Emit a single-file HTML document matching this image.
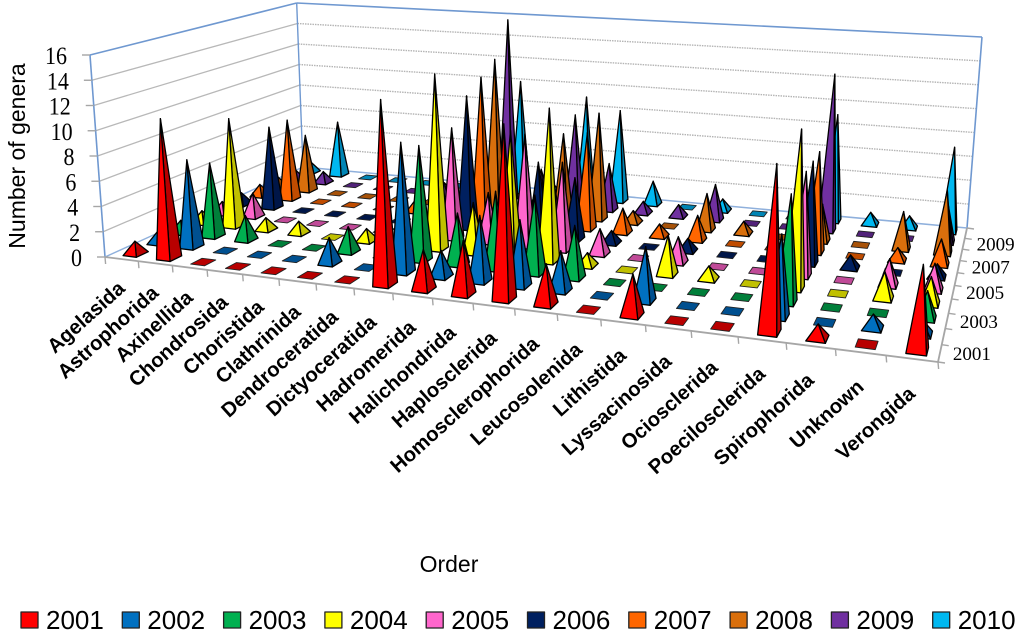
<!DOCTYPE html>
<html lang="en">
<head>
<meta charset="utf-8">
<title>Number of genera by order and year</title>
<style>
html,body{margin:0;padding:0;background:#fff;}
svg{display:block;}
text{font-family:"Liberation Sans",sans-serif;fill:#000;}
.serif{font-family:"Liberation Serif",serif;}
</style>
</head>
<body>
<svg id="chart" xmlns="http://www.w3.org/2000/svg" width="1024" height="634" viewBox="0 0 1024 634">
<text transform="translate(25 156) rotate(-90)" text-anchor="middle" font-size="23">Number of genera</text>
<text x="449" y="572" text-anchor="middle" font-size="23">Order</text>
</svg>
<script>
const categories = ["Agelasida","Astrophorida","Axinellida","Chondrosida","Choristida","Clathrinida","Dendroceratida","Dictyoceratida","Hadromerida","Halichondrida","Haplosclerida","Homosclerophorida","Leucosolenida","Lithistida","Lyssacinosida","Ociosclerida","Poecilosclerida","Spirophorida","Unknown","Verongida"];
const years = ["2001","2002","2003","2004","2005","2006","2007","2008","2009","2010"];
const yTicks = [0,2,4,6,8,10,12,14,16];
const yearTicks = ["2001","2003","2005","2007","2009"];
const v2001 = [1,11,0,0,0,0,0,14,3,4,13,3,0,3,0,0,12,1,0,6];
const v2002 = [1,7,0,0,0,2,0,10,2,5,5,3,0,4,0,0,6,0,1,1];
const v2003 = [1,6,2,0,0,2,0,9,4,6,6,4,0,0,0,0,8,0,0,2];
const v2004 = [1,9,1,1,0,1,0,14,4,10,12,1,0,3,1,0,12,0,2,2];
const v2005 = [1,2,0,0,0,0,0,9,4,9,7,2,0,2,0,0,8,0,2,2];
const v2006 = [1,7,0,0,0,0,0,11,1,6,5,1,0,1,0,0,8,1,0,1];
const v2007 = [1,7,0,0,0,1,0,12,1,5,8,2,1,2,0,0,8,0,1,2];
const v2008 = [1,5,0,0,0,0,0,13,1,7,9,1,0,3,1,0,3,0,3,5];
const v2009 = [1,1,0,0,0,1,0,16,3,8,4,1,1,3,0,0,13,0,0,3];
const v2010 = [1,5,0,0,0,0,0,10,1,9,8,2,0,1,0,0,9,1,1,7];
const seriesValues = [v2001,v2002,v2003,v2004,v2005,v2006,v2007,v2008,v2009,v2010];
const faceColors = ["#ff0000","#0070c0","#00b050","#ffff00","#ff66cc","#002060","#ff6600","#d96f0c","#7030a0","#00b8f0"];
const sideColors = ["#b80000","#005090","#007f3a","#c0c000","#c04a98","#001648","#c04c00","#a85208","#52227a","#0085b5"];

const svg = document.getElementById('chart');
const NS = 'http://www.w3.org/2000/svg';
const yMax = 16;

function homography(p00, p10, p11, p01) {
  const dx1 = p10[0]-p11[0], dx2 = p01[0]-p11[0], sx = p00[0]-p10[0]+p11[0]-p01[0];
  const dy1 = p10[1]-p11[1], dy2 = p01[1]-p11[1], sy = p00[1]-p10[1]+p11[1]-p01[1];
  const den = dx1*dy2-dx2*dy1;
  const g = (sx*dy2-dx2*sy)/den, h = (dx1*sy-sx*dy1)/den;
  const a = p10[0]-p00[0]+g*p10[0], b = p01[0]-p00[0]+h*p01[0], c = p00[0];
  const d = p10[1]-p00[1]+g*p10[1], e = p01[1]-p00[1]+h*p01[1], f = p00[1];
  return function(u, v) {
    const w = g*u+h*v+1;
    return [(a*u+b*v+c)/w, (d*u+e*v+f)/w];
  };
}
const floorMap = homography([105,257],[938,362],[967,228],[303,167]);
const vanishX = 523, vanishY = 5884;
const heightFL = 202, heightFR = 232, heightBR = 191, heightBL = 164;

function fullHeight(u, v) {
  return (heightFL*(1-u)+heightFR*u)*(1-v) + (heightBL*(1-u)+heightBR*u)*v;
}
function project(u, v, value) {
  const p = floorMap(u, v);
  const dy = fullHeight(u, v)*value/yMax;
  return [p[0]+(p[0]-vanishX)*dy/(vanishY-p[1]), p[1]-dy];
}
function catU(i) { return (i+0.56)/categories.length; }
function yearV(s) { return (s+0.5)/years.length; }

function makeLine(a, b, stroke, width, dash) {
  const el = document.createElementNS(NS, 'line');
  el.setAttribute('x1', a[0].toFixed(2));
  el.setAttribute('y1', a[1].toFixed(2));
  el.setAttribute('x2', b[0].toFixed(2));
  el.setAttribute('y2', b[1].toFixed(2));
  el.setAttribute('stroke', stroke);
  el.setAttribute('stroke-width', width);
  if (dash) el.setAttribute('stroke-dasharray', dash);
  return el;
}
function makePoly(points, fill, stroke, width) {
  const el = document.createElementNS(NS, 'polygon');
  el.setAttribute('points', points.map(function(p){ return p[0].toFixed(2)+','+p[1].toFixed(2); }).join(' '));
  el.setAttribute('fill', fill);
  el.setAttribute('stroke', stroke);
  el.setAttribute('stroke-width', width);
  el.setAttribute('stroke-linejoin', 'round');
  return el;
}

/* gridlines */
const gridGroup = document.createElementNS(NS, 'g');


svg.appendChild(gridGroup);
yTicks.forEach(function(t) {
  if (t === 0 || t === yMax) return;
  gridGroup.appendChild(makeLine(project(0,0,t), project(0,1,t), '#b8b8b8', 1.3));
  gridGroup.appendChild(makeLine(project(0,1,t), project(1,1,t), '#b4b4b4', 1.4, '1.5 1'));
});

/* wall frame */
const frame = document.createElementNS(NS, 'g');


svg.appendChild(frame);
const frameBlue = '#6f98d0';
frame.appendChild(makeLine(project(0,0,0), project(0,0,yMax), frameBlue, 1.6));
frame.appendChild(makeLine(project(0,1,0), project(0,1,yMax), frameBlue, 1.4));
frame.appendChild(makeLine(project(1,1,0), project(1,1,yMax), frameBlue, 1.6));
frame.appendChild(makeLine(project(0,0,yMax), project(0,1,yMax), frameBlue, 1.6));
frame.appendChild(makeLine(project(0,1,yMax), project(1,1,yMax), frameBlue, 1.6));
frame.appendChild(makeLine(project(0,0,0), project(0,1,0), '#8fb0dc', 1.4));
frame.appendChild(makeLine(project(0,1,0), project(1,1,0), '#8fb0dc', 1.6));

/* floor axes */
const axes = document.createElementNS(NS, 'g');


svg.appendChild(axes);
axes.appendChild(makeLine(project(0,0,0), project(1,0,0), '#a6a6a6', 1.8));
axes.appendChild(makeLine(project(1,0,0), project(1,1,0), '#a6a6a6', 1.8));
for (let i = 0; i <= categories.length; i++) {
  const a = project(i/categories.length,0,0);
  axes.appendChild(makeLine(a, [a[0]+0.6,a[1]+7], '#a6a6a6', 1.4));
}
for (let s = 0; s <= years.length; s++) {
  const a = project(1,s/years.length,0);
  axes.appendChild(makeLine(a, [a[0]+7,a[1]+1], '#a6a6a6', 1.4));
}
yTicks.forEach(function(t) {
  const a = project(0,0,t);
  axes.appendChild(makeLine(a, [a[0]-8,a[1]], '#a6a6a6', 1.4));
  const label = document.createElementNS(NS, 'text');
  
  
  label.setAttribute('class', 'serif');
  label.setAttribute('transform', 'translate('+(a[0]-23).toFixed(1)+' '+(a[1]+9).toFixed(1)+') scale(0.88 1)');
  label.setAttribute('text-anchor', 'end');
  label.setAttribute('font-size', '25');
  label.textContent = t;
  axes.appendChild(label);
});

/* category labels */
categories.forEach(function(name, i) {
  const a = project((i+0.5)/categories.length,0,0);
  const label = document.createElementNS(NS, 'text');
  
  
  const x = a[0]+4.5, y = a[1]+31+i*0.3;
  label.setAttribute('transform', 'translate('+x.toFixed(1)+' '+y.toFixed(1)+') rotate(-42)');
  label.setAttribute('text-anchor', 'end');
  label.setAttribute('font-size', '20.3');
  label.setAttribute('font-weight', '700');
  label.textContent = name;
  svg.appendChild(label);
});

/* year labels */
yearTicks.forEach(function(y) {
  const s = years.indexOf(y);
  const a = project(1,yearV(s),0);
  const label = document.createElementNS(NS, 'text');
  
  
  label.setAttribute('class', 'serif');
  label.setAttribute('x', (a[0]+13).toFixed(1));
  label.setAttribute('y', (a[1]+7).toFixed(1));
  label.setAttribute('font-size', '19');
  label.textContent = y;
  svg.appendChild(label);
});

/* pyramids: painted back to front */
const halfW = 0.2/categories.length, halfD = 0.25/years.length;
for (let s = years.length-1; s >= 0; s--) {
  const group = document.createElementNS(NS, 'g');
  
  
  svg.appendChild(group);
  categories.forEach(function(name, i) {
    const value = seriesValues[s][i];
    const cu = catU(i), cv = yearV(s);
    const fl = project(cu-halfW,cv-halfD,0), fr = project(cu+halfW,cv-halfD,0);
    const br = project(cu+halfW,cv+halfD,0), bl = project(cu-halfW,cv+halfD,0);
    if (value === 0) {
      const flat = makePoly([fl,fr,br,bl], sideColors[s], '#222', 0.9);
      
      
      group.appendChild(flat);
      return;
    }
    const apex = project(cu,cv,value);
    const side = makePoly([fr,br,apex], sideColors[s], '#000', 1.3);
    
    
    group.appendChild(side);
    const face = makePoly([fl,fr,apex], faceColors[s], '#000', 1.3);
    
    
    group.appendChild(face);
  });
}

/* legend */
const legend = document.createElementNS(NS, 'g');


svg.appendChild(legend);
years.forEach(function(y, s) {
  const x0 = 21 + s*101.3;
  const entry = document.createElementNS(NS, 'g');
  
  
  legend.appendChild(entry);
  const box = makePoly([[x0,612],[x0+17,612],[x0+17,628],[x0,628]], faceColors[s], '#222', 1.3);
  
  
  entry.appendChild(box);
  const label = document.createElementNS(NS, 'text');
  
  
  label.setAttribute('x', (x0+25).toFixed(1));
  label.setAttribute('y', '629');
  label.setAttribute('font-size', '26');
  label.textContent = y;
  entry.appendChild(label);
});
</script>
</body>
</html>
